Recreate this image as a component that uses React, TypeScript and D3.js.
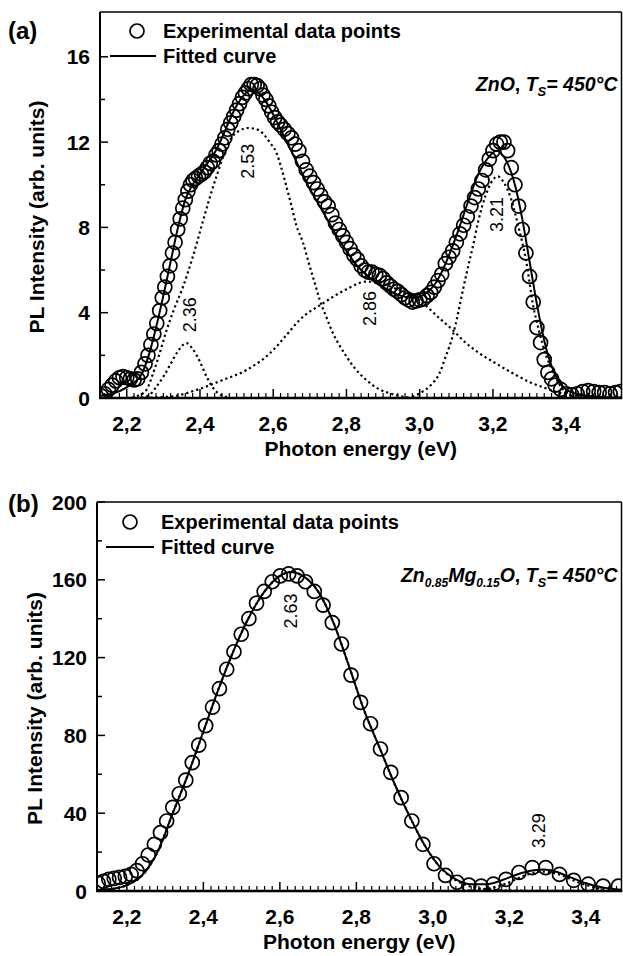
import React from "react";
import * as d3 from "d3";

type Pt = [number, number];

// ---------- panel (a): ZnO ----------
const expA: Pt[] = [
  [2.13, 0.1], [2.14, 0.2], [2.15, 0.4], [2.16, 0.6], [2.17, 0.8], [2.18, 0.95], [2.19, 1.0], [2.2, 0.95],
  [2.21, 0.9], [2.22, 0.85], [2.23, 0.9], [2.24, 1.2], [2.25, 1.6], [2.258, 2.0], [2.266, 2.5], [2.274, 3.0],
  [2.282, 3.5], [2.29, 4.1], [2.297, 4.7], [2.304, 5.2], [2.311, 5.7], [2.318, 6.2], [2.325, 6.8], [2.332, 7.3],
  [2.339, 7.9], [2.346, 8.4], [2.353, 8.9], [2.36, 9.3], [2.367, 9.7], [2.374, 10.0], [2.381, 10.2], [2.388, 10.3],
  [2.396, 10.4], [2.404, 10.5], [2.412, 10.6], [2.42, 10.8], [2.428, 11.0], [2.436, 11.1], [2.444, 11.4], [2.452, 11.6],
  [2.46, 11.9], [2.468, 12.2], [2.476, 12.6], [2.484, 12.9], [2.492, 13.2], [2.5, 13.5], [2.508, 13.8], [2.516, 14.1],
  [2.524, 14.3], [2.532, 14.5], [2.54, 14.7], [2.548, 14.7], [2.556, 14.65], [2.564, 14.5], [2.572, 14.2], [2.58, 14.0],
  [2.588, 13.7], [2.596, 13.4], [2.604, 13.15], [2.612, 12.95], [2.62, 12.8], [2.63, 12.6], [2.64, 12.4], [2.65, 12.2],
  [2.66, 11.9], [2.67, 11.6], [2.68, 11.1], [2.69, 10.7], [2.7, 10.4], [2.71, 10.1], [2.72, 9.8], [2.73, 9.5],
  [2.74, 9.2], [2.75, 9.0], [2.76, 8.6], [2.77, 8.2], [2.78, 7.9], [2.79, 7.6], [2.8, 7.3], [2.81, 7.0],
  [2.82, 6.7], [2.83, 6.5], [2.84, 6.2], [2.85, 6.0], [2.86, 5.9], [2.87, 5.9], [2.88, 5.8], [2.89, 5.75],
  [2.9, 5.6], [2.91, 5.4], [2.92, 5.25], [2.93, 5.1], [2.94, 5.0], [2.95, 4.85], [2.96, 4.7], [2.97, 4.6],
  [2.98, 4.5], [2.99, 4.55], [3.0, 4.6], [3.01, 4.65], [3.02, 4.8], [3.03, 4.95], [3.04, 5.2], [3.05, 5.5],
  [3.06, 5.8], [3.07, 6.3], [3.08, 6.6], [3.09, 6.9], [3.1, 7.3], [3.11, 7.7], [3.12, 8.1], [3.13, 8.5],
  [3.14, 9.0], [3.15, 9.4], [3.16, 9.8], [3.17, 10.2], [3.18, 10.7], [3.19, 11.2], [3.2, 11.6], [3.21, 11.9],
  [3.22, 12.0], [3.23, 12.0], [3.24, 11.6], [3.25, 10.8], [3.26, 10.0], [3.27, 9.0], [3.28, 7.9], [3.29, 6.8],
  [3.3, 5.7], [3.31, 4.5], [3.32, 3.3], [3.33, 2.6], [3.34, 1.8], [3.35, 1.2], [3.36, 0.9], [3.37, 0.6],
  [3.385, 0.4], [3.4, 0.2], [3.415, 0.15], [3.43, 0.2], [3.445, 0.3], [3.46, 0.35], [3.475, 0.3], [3.49, 0.25],
  [3.505, 0.25], [3.52, 0.2], [3.535, 0.25], [3.548, 0.3],
];

const fitA: Pt[] = [
  [2.127, 0.1], [2.16, 0.2], [2.2, 0.5], [2.24, 1.1], [2.26, 2.0], [2.28, 3.3], [2.3, 4.8], [2.32, 6.4],
  [2.34, 8.0], [2.36, 9.3], [2.38, 10.0], [2.4, 10.5], [2.42, 11.0], [2.44, 11.5], [2.46, 12.2], [2.48, 13.0],
  [2.5, 13.7], [2.52, 14.2], [2.54, 14.45], [2.56, 14.3], [2.58, 13.9], [2.6, 13.3], [2.62, 12.6], [2.64, 11.9],
  [2.66, 11.2], [2.68, 10.5], [2.7, 9.8], [2.72, 9.2], [2.74, 8.6], [2.76, 8.0], [2.78, 7.4], [2.8, 6.9],
  [2.82, 6.4], [2.84, 6.0], [2.86, 5.7], [2.88, 5.4], [2.9, 5.2], [2.92, 5.0], [2.94, 4.85], [2.96, 4.75],
  [2.98, 4.7], [3.0, 4.75], [3.02, 4.95], [3.04, 5.3], [3.06, 5.9], [3.08, 6.7], [3.1, 7.6], [3.12, 8.6],
  [3.14, 9.6], [3.16, 10.5], [3.18, 11.1], [3.2, 11.5], [3.21, 11.6], [3.22, 11.5], [3.24, 11.0], [3.26, 10.0],
  [3.28, 8.4], [3.3, 6.4], [3.32, 4.4], [3.34, 2.7], [3.36, 1.5], [3.38, 0.8], [3.4, 0.4], [3.44, 0.15],
  [3.5, 0.05], [3.551, 0.02],
];

const compA236: Pt[] = [
  [2.24, 0.03], [2.26, 0.12], [2.281, 0.53], [2.3, 1.0], [2.32, 1.6], [2.34, 2.2], [2.363, 2.57], [2.38, 2.3],
  [2.4, 1.7], [2.418, 1.0], [2.44, 0.38], [2.46, 0.12], [2.48, 0.03],
];
const compA253: Pt[] = [
  [2.2, 0.0], [2.23, 0.1], [2.254, 0.38], [2.272, 1.16], [2.29, 2.1], [2.309, 3.19], [2.33, 4.2], [2.354, 5.23],
  [2.38, 6.6], [2.404, 8.04], [2.425, 9.3], [2.445, 10.39], [2.465, 11.4], [2.482, 12.1], [2.51, 12.55], [2.531, 12.66],
  [2.552, 12.62], [2.572, 12.4], [2.59, 12.0], [2.609, 11.49], [2.622, 10.8], [2.636, 9.92], [2.65, 9.0], [2.663, 8.1],
  [2.681, 7.3], [2.7, 6.16], [2.715, 5.3], [2.727, 4.6], [2.745, 3.8], [2.763, 3.04], [2.78, 2.5], [2.8, 1.94],
  [2.825, 1.35], [2.854, 0.85], [2.885, 0.45], [2.918, 0.22], [2.96, 0.05], [3.0, 0.0],
];
const compA286: Pt[] = [
  [2.25, 0.02], [2.318, 0.06], [2.391, 0.38], [2.463, 0.85], [2.527, 1.31], [2.6, 2.25], [2.636, 2.95], [2.672, 3.66],
  [2.736, 4.44], [2.8, 5.1], [2.854, 5.46], [2.9, 5.35], [2.95, 5.0], [3.009, 4.44], [3.05, 3.8], [3.09, 3.19],
  [3.125, 2.6], [3.163, 2.1], [3.21, 1.6], [3.254, 1.16], [3.3, 0.75], [3.345, 0.45], [3.39, 0.2], [3.44, 0.08],
  [3.5, 0.02],
];
const compA321: Pt[] = [
  [2.98, 0.05], [3.0, 0.22], [3.03, 0.6], [3.054, 1.16], [3.07, 1.9], [3.09, 2.9], [3.105, 4.0], [3.118, 5.07],
  [3.13, 6.0], [3.145, 7.1], [3.16, 8.3], [3.18, 9.5], [3.195, 10.1], [3.213, 10.39], [3.23, 10.1], [3.25, 9.3],
  [3.27, 8.0], [3.291, 6.4], [3.309, 4.4], [3.325, 3.2], [3.345, 2.0], [3.365, 1.2], [3.381, 0.65], [3.4, 0.25],
  [3.42, 0.05],
];
const peakTextA = ["2.36", "2.53", "2.86", "3.21"];
const peakPosA: Pt[] = [[2.372, 3.9], [2.531, 11.1], [2.863, 4.2], [3.209, 8.6]];

// ---------- panel (b): Zn0.85Mg0.15O ----------
const expB: Pt[] = [
  [2.125, 4], [2.139, 5], [2.153, 6], [2.167, 6.5], [2.181, 7], [2.196, 7.5], [2.211, 8.5], [2.226, 10.5],
  [2.241, 14], [2.256, 18.5], [2.272, 24], [2.288, 30], [2.304, 36], [2.32, 43], [2.337, 50], [2.354, 57],
  [2.371, 66], [2.388, 75], [2.406, 85], [2.424, 94.5], [2.442, 104], [2.461, 114], [2.48, 123], [2.499, 132],
  [2.519, 140], [2.539, 148], [2.559, 154], [2.58, 159], [2.601, 162], [2.623, 163], [2.645, 162], [2.667, 159],
  [2.69, 154], [2.713, 147], [2.737, 138], [2.761, 127], [2.786, 111], [2.811, 97], [2.837, 86], [2.863, 73],
  [2.89, 61], [2.917, 48], [2.945, 36], [2.974, 24], [3.003, 14], [3.033, 8], [3.063, 4.5], [3.094, 3],
  [3.126, 2.5], [3.158, 3.5], [3.191, 6], [3.225, 9.5], [3.26, 12], [3.295, 12], [3.331, 8.5], [3.368, 5.5],
  [3.406, 3.5], [3.445, 2.5], [3.485, 2.5],
];
const fitB: Pt[] = [
  [2.122, 0.5], [2.16, 1], [2.2, 3], [2.24, 8], [2.28, 20], [2.32, 40], [2.36, 60], [2.4, 82],
  [2.44, 104], [2.48, 124], [2.52, 141], [2.56, 154], [2.6, 162], [2.63, 164], [2.66, 162], [2.7, 154],
  [2.74, 138], [2.78, 116], [2.82, 93], [2.86, 74], [2.9, 55], [2.94, 38], [2.98, 23], [3.02, 12],
  [3.06, 6], [3.1, 3.5], [3.14, 3.5], [3.18, 5.5], [3.22, 8.5], [3.26, 10.5], [3.29, 11], [3.32, 10],
  [3.36, 7], [3.4, 4], [3.44, 2], [3.493, 0.7],
];
const compB263: Pt[] = [
  [2.122, 0.5], [2.16, 1], [2.2, 3], [2.24, 8], [2.28, 20], [2.32, 40], [2.36, 60], [2.4, 82],
  [2.44, 104], [2.48, 124], [2.52, 141], [2.56, 154], [2.6, 162], [2.63, 164], [2.66, 162], [2.7, 154],
  [2.74, 138], [2.78, 116], [2.82, 93], [2.86, 74], [2.9, 55], [2.94, 38], [2.98, 23], [3.02, 12],
  [3.06, 5.5], [3.1, 2.2], [3.15, 0.8], [3.2, 0.3], [3.3, 0.05], [3.493, 0],
];
const compB329: Pt[] = [
  [3.05, 0], [3.1, 0.4], [3.15, 1.5], [3.2, 4.5], [3.24, 8], [3.29, 10], [3.33, 8.5], [3.38, 4.5],
  [3.42, 2], [3.47, 0.5], [3.493, 0.2],
];
const peakTextB = ["2.63", "3.29"];
const peakPosB: Pt[] = [[2.627, 144], [3.277, 31]];

const xMajor = [2.2, 2.4, 2.6, 2.8, 3.0, 3.2, 3.4];
const yMajorA = [0, 4, 8, 12, 16];
const yMinorA = [2, 6, 10, 14];
const yMajorB = [0, 40, 80, 120, 160, 200];
const yMinorB = [20, 60, 100, 140, 180];

const FONT = "'Liberation Sans', Arial, Helvetica, sans-serif";

interface PanelProps {
  tag: string;
  left: number;
  right: number;
  top: number;
  bottom: number;
  xDomain: [number, number];
  yDomain: [number, number];
  yMajor: number[];
  yMinor: number[];
  exp: Pt[];
  fit: Pt[];
  comps: Pt[][];
  peakText: string[];
  peakPos: Pt[];
  note: React.ReactNode;
  noteY: number;
  tagY: number;
  legendY: number;
  legendCircleX: number;
  legendLineX1: number;
  legendTextX: number;
  yTitleX: number;
}

const Panel: React.FC<PanelProps> = (p) => {
  const x = d3.scaleLinear().domain(p.xDomain).range([p.left, p.right]);
  const y = d3.scaleLinear().domain(p.yDomain).range([p.bottom, p.top]);
  const line = d3
    .line<Pt>()
    .x((d) => x(d[0]))
    .y((d) => y(d[1]))
    .curve(d3.curveMonotoneX);

  const xMinor = d3
    .range(Math.ceil(p.xDomain[0] / 0.02), Math.floor(p.xDomain[1] / 0.02) + 1)
    .map((k) => k * 0.02)
    .filter((v) => !xMajor.some((m) => Math.abs(m - v) < 1e-6));

  return (
    <g fontFamily={FONT}>
      <defs>
        <clipPath id={`clip-${p.tag}`}>
          <rect x={p.left} y={p.top} width={p.right - p.left} height={p.bottom - p.top} />
        </clipPath>
      </defs>
      <text x={8} y={p.tagY} fontSize={24} fontWeight="bold">
        ({p.tag})
      </text>

      {/* data */}
      <g clipPath={`url(#clip-${p.tag})`}>
        {p.comps.map((c, i) => (
          <path
            key={i}
            d={line(c) || ""}
            fill="none"
            stroke="#000"
            strokeWidth={2.2}
            strokeDasharray="2.2 3"
          />
        ))}
        <path d={line(p.fit) || ""} fill="none" stroke="#000" strokeWidth={2} />
        {p.exp.map((d, i) => (
          <circle key={i} cx={x(d[0])} cy={y(d[1])} r={7} fill="none" stroke="#000" strokeWidth={1.7} />
        ))}
      </g>

      {p.peakText.map((t, i) => (
        <text
          key={t}
          transform={`translate(${x(p.peakPos[i][0])},${y(p.peakPos[i][1])}) rotate(-90)`}
          textAnchor="middle"
          dy="0.35em"
          fontSize={18}
        >
          {t}
        </text>
      ))}

      {/* frame */}
      <line x1={p.left} x2={p.right} y1={p.top} y2={p.top} stroke="#000" strokeWidth={1.5} />
      <line x1={p.right} x2={p.right} y1={p.top} y2={p.bottom} stroke="#000" strokeWidth={1.5} />
      <line x1={p.left} x2={p.left} y1={p.top} y2={p.bottom + 1} stroke="#000" strokeWidth={2} />
      <line x1={p.left - 1} x2={p.right + 0.75} y1={p.bottom} y2={p.bottom} stroke="#000" strokeWidth={2.5} />

      {/* x ticks */}
      {xMajor.map((v) => (
        <g key={v}>
          <line x1={x(v)} x2={x(v)} y1={p.bottom} y2={p.bottom - 9} stroke="#000" strokeWidth={1.5} />
          <text x={x(v)} y={p.bottom + 33} textAnchor="middle" fontSize={21} fontWeight="bold">
            {v.toFixed(1).replace(".", ",")}
          </text>
        </g>
      ))}
      {xMinor.map((v) => (
        <line key={v} x1={x(v)} x2={x(v)} y1={p.bottom} y2={p.bottom - 5} stroke="#000" strokeWidth={1.2} />
      ))}

      {/* y ticks */}
      {p.yMajor.map((v) => (
        <g key={v}>
          <line x1={p.left} x2={p.left + 8} y1={y(v)} y2={y(v)} stroke="#000" strokeWidth={1.5} />
          <text x={p.left - 10} y={y(v)} dy="0.36em" textAnchor="end" fontSize={21} fontWeight="bold">
            {v}
          </text>
        </g>
      ))}
      {p.yMinor.map((v) => (
        <line key={v} x1={p.left} x2={p.left + 5} y1={y(v)} y2={y(v)} stroke="#000" strokeWidth={1.5} />
      ))}

      {/* axis titles */}
      <text
        x={(p.left + p.right) / 2}
        y={p.bottom + 58}
        textAnchor="middle"
        fontSize={21}
        fontWeight="bold"
      >
        Photon energy (eV)
      </text>
      <text
        transform={`translate(${p.yTitleX},${(p.top + p.bottom) / 2 + 12}) rotate(-90)`}
        textAnchor="middle"
        fontSize={21}
        fontWeight="bold"
      >
        PL Intensity (arb. units)
      </text>

      {/* legend */}
      <circle cx={p.legendCircleX} cy={p.legendY} r={7} fill="none" stroke="#000" strokeWidth={1.7} />
      <text x={p.legendTextX} y={p.legendY} dy="0.36em" fontSize={20} fontWeight="bold">
        Experimental data points
      </text>
      <line
        x1={p.legendLineX1}
        x2={p.legendTextX - 7}
        y1={p.legendY + 25}
        y2={p.legendY + 25}
        stroke="#000"
        strokeWidth={2}
      />
      <text x={p.legendTextX} y={p.legendY + 25} dy="0.36em" fontSize={20} fontWeight="bold">
        Fitted curve
      </text>

      <text x={p.right - 4} y={p.noteY} textAnchor="end" fontSize={19.5} fontWeight="bold" fontStyle="italic">
        {p.note}
      </text>
    </g>
  );
};

export default function App() {
  return (
    <div style={{ position: "absolute", left: 0, top: 0 }}>
      <svg width={623} height={956} style={{ display: "block", background: "#fff" }}>
        <Panel
          tag="a"
          left={100}
          right={621.5}
          top={12}
          bottom={398}
          xDomain={[2.127, 3.551]}
          yDomain={[0, 18.1]}
          yMajor={yMajorA}
          yMinor={yMinorA}
          exp={expA}
          fit={fitA}
          comps={[compA236, compA253, compA286, compA321]}
          peakText={peakTextA}
          peakPos={peakPosA}
          note={
            <>
              <tspan>ZnO</tspan>
              <tspan fontStyle="normal">, </tspan>
              <tspan>T</tspan>
              <tspan fontSize={13} dy={5}>S</tspan>
              <tspan dy={-5}>= 450°C</tspan>
            </>
          }
          noteY={91}
          tagY={39}
          legendY={31}
          legendCircleX={137}
          legendLineX1={110}
          legendTextX={163}
          yTitleX={44}
        />
        <Panel
          tag="b"
          left={97}
          right={621.5}
          top={502}
          bottom={891}
          xDomain={[2.122, 3.493]}
          yDomain={[0, 200]}
          yMajor={yMajorB}
          yMinor={yMinorB}
          exp={expB}
          fit={fitB}
          comps={[compB263, compB329]}
          peakText={peakTextB}
          peakPos={peakPosB}
          note={
            <>
              <tspan>Zn</tspan>
              <tspan fontSize={12} dy={5}>0.85</tspan>
              <tspan dy={-5}>Mg</tspan>
              <tspan fontSize={12} dy={5}>0.15</tspan>
              <tspan dy={-5}>O</tspan>
              <tspan fontStyle="normal">, </tspan>
              <tspan>T</tspan>
              <tspan fontSize={13} dy={5}>S</tspan>
              <tspan dy={-5}>= 450°C</tspan>
            </>
          }
          noteY={582}
          tagY={512}
          legendY={522}
          legendCircleX={130}
          legendLineX1={106}
          legendTextX={161}
          yTitleX={42}
        />
      </svg>
    </div>
  );
}
